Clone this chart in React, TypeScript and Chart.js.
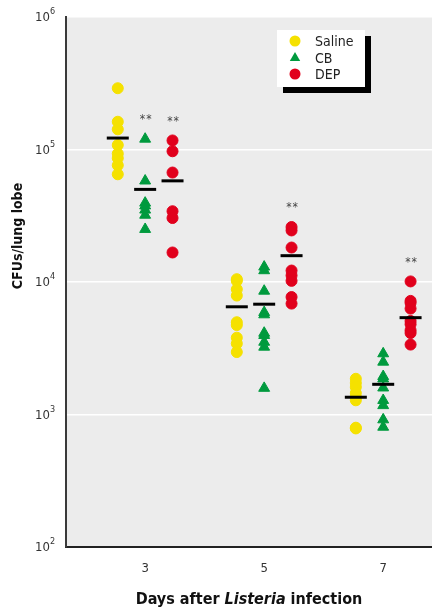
import { useEffect, useRef } from "react";
import { Chart, registerables } from "chart.js";

Chart.register(...registerables);

// Sampling days and their axis labels
const days = [3, 5, 7];
const dayLabels = ["3", "5", "7"];

// Individual lung-lobe counts (CFUs) per group and day
const salineDay3 = [2.9e5, 1.62e5, 1.42e5, 1.08e5, 9.3e4, 8.6e4, 7.6e4, 6.5e4];
const salineDay5 = [1.05e4, 1.02e4, 8.8e3, 7.9e3, 4.97e3, 4.73e3, 3.8e3, 3.43e3, 2.96e3];
const salineDay7 = [1.86e3, 1.73e3, 1.61e3, 1.45e3, 1.35e3, 1.28e3, 795, 785];

const cbDay3 = [1.2e5, 5.8e4, 3.95e4, 3.76e4, 3.5e4, 3.2e4, 2.5e4];
const cbDay5 = [1.3e4, 1.22e4, 8.55e3, 5.9e3, 5.67e3, 4.12e3, 3.96e3, 3.52e3, 3.23e3, 1.58e3];
const cbDay7 = [2.88e3, 2.49e3, 1.94e3, 1.86e3, 1.59e3, 1.28e3, 1.17e3, 914, 804];

const depDay3 = [1.17e5, 9.7e4, 6.7e4, 3.42e4, 3.04e4, 1.67e4];
const depDay5 = [2.6e4, 2.45e4, 1.82e4, 1.22e4, 1.12e4, 1.02e4, 7.7e3, 6.87e3];
const depDay7 = [1.01e4, 7.2e3, 6.95e3, 6.3e3, 5.08e3, 4.8e3, 4.32e3, 4.12e3, 3.37e3];

// Group means (horizontal bars)
const salineMeans = [1.22e5, 6.5e3, 1.35e3];
const cbMeans = [5.0e4, 6.8e3, 1.69e3];
const depMeans = [5.8e4, 1.58e4, 5.38e3];

// Significance flags (** above the group)
const salineSignificant = [false, false, false];
const cbSignificant = [true, false, false];
const depSignificant = [true, true, true];

// Decades shown on the y axis
const yTickPowers = [2, 3, 4, 5, 6];

const FONT = "'Liberation Sans Narrow', 'DejaVu Sans Condensed', 'Liberation Sans', Arial, sans-serif";
const GROUP_SHIFT = 0.46;

type Group = {
  name: string;
  color: string;
  style: "circle" | "triangle";
  radius: number;
  shift: number;
  values: number[][];
  means: number[];
  significant: boolean[];
};

const groups: Group[] = [
  { name: "Saline", color: "#f5e100", style: "circle", radius: 5.5, shift: -GROUP_SHIFT, values: [salineDay3, salineDay5, salineDay7], means: salineMeans, significant: salineSignificant },
  { name: "CB", color: "#009a3e", style: "triangle", radius: 6.3, shift: 0, values: [cbDay3, cbDay5, cbDay7], means: cbMeans, significant: cbSignificant },
  { name: "DEP", color: "#e1001c", style: "circle", radius: 5.5, shift: GROUP_SHIFT, values: [depDay3, depDay5, depDay7], means: depMeans, significant: depSignificant },
];

const decorPlugin = {
  id: "decor",
  beforeDraw(chart: any) {
    const { ctx, chartArea: a } = chart;
    ctx.save();
    ctx.fillStyle = "#ececec";
    ctx.fillRect(a.left, a.top, a.right - a.left, a.bottom - a.top);
    ctx.restore();
  },
  afterDraw(chart: any) {
    const { ctx, chartArea: a } = chart;
    const xs = chart.scales.x;
    const ys = chart.scales.y;
    ctx.save();

    // y tick labels as 10 with a raised exponent
    ctx.fillStyle = "#333";
    for (const p of yTickPowers) {
      const y = ys.getPixelForValue(Math.pow(10, p));
      ctx.font = `13px ${FONT}`;
      ctx.textAlign = "right";
      ctx.textBaseline = "middle";
      ctx.fillText("10", a.left - 16, y + 1);
      ctx.font = `9px ${FONT}`;
      ctx.textAlign = "left";
      ctx.fillText(String(p), a.left - 16, y - 5);
    }

    // significance marks
    ctx.font = `12px ${FONT}`;
    ctx.fillStyle = "#444";
    ctx.textAlign = "center";
    ctx.textBaseline = "middle";
    (ctx as any).letterSpacing = "1px";
    groups.forEach((g) => {
      days.forEach((d, i) => {
        if (!g.significant[i]) return;
        const top = Math.max(...g.values[i]);
        const x = xs.getPixelForValue(d + g.shift);
        const y = ys.getPixelForValue(top) - 19;
        ctx.fillText("**", x + 1, y);
      });
    });
    (ctx as any).letterSpacing = "0px";

    // y axis title
    ctx.save();
    ctx.translate(18, 236);
    ctx.rotate(-Math.PI / 2);
    ctx.font = `bold 14px ${FONT}`;
    ctx.fillStyle = "#111";
    ctx.textAlign = "center";
    ctx.textBaseline = "middle";
    ctx.fillText("CFUs/lung lobe", 0, 0);
    ctx.restore();

    // x axis title with italic genus name
    const parts = [
      { t: "Days after ", f: `bold 16px ${FONT}` },
      { t: "Listeria", f: `italic bold 16px ${FONT}` },
      { t: " infection", f: `bold 16px ${FONT}` },
    ];
    let total = 0;
    for (const p of parts) {
      ctx.font = p.f;
      total += ctx.measureText(p.t).width;
    }
    let cx = (a.left + a.right) / 2 - total / 2;
    ctx.fillStyle = "#111";
    ctx.textAlign = "left";
    ctx.textBaseline = "middle";
    for (const p of parts) {
      ctx.font = p.f;
      ctx.fillText(p.t, cx, 600);
      cx += ctx.measureText(p.t).width;
    }

    // legend box with drop shadow
    const lx = 277, ly = 30, lw = 88, lh = 57;
    ctx.fillStyle = "#000";
    ctx.fillRect(lx + 6, ly + 6, lw, lh);
    ctx.fillStyle = "#fff";
    ctx.fillRect(lx, ly, lw, lh);
    const rows = [41, 58, 74];
    groups.forEach((g, i) => {
      const my = ly + (rows[i] - 30);
      ctx.fillStyle = g.color;
      ctx.beginPath();
      if (g.style === "circle") {
        ctx.arc(lx + 18, my, 5.5, 0, Math.PI * 2);
      } else {
        ctx.moveTo(lx + 18, my - 6);
        ctx.lineTo(lx + 23.2, my + 3);
        ctx.lineTo(lx + 12.8, my + 3);
        ctx.closePath();
      }
      ctx.fill();
      ctx.fillStyle = "#222";
      ctx.font = `14px ${FONT}`;
      ctx.textAlign = "left";
      ctx.textBaseline = "middle";
      ctx.fillText(g.name, lx + 38, my + 1);
    });

    ctx.restore();
  },
};

export default function App() {
  const canvasRef = useRef<HTMLCanvasElement | null>(null);

  useEffect(() => {
    document.body.style.margin = "0";
    const canvas = canvasRef.current;
    if (!canvas) return;

    const meanSets = groups.map((g) => ({
      label: `${g.name} mean`,
      data: days.map((d, i) => ({ x: d + g.shift, y: g.means[i] })),
      pointStyle: "line" as const,
      pointRadius: 11,
      pointBorderWidth: 3,
      pointBorderColor: "#000",
      pointBackgroundColor: "#000",
      borderColor: "#000",
    }));

    const pointSets = groups.map((g) => ({
      label: g.name,
      data: days.flatMap((d, i) => g.values[i].map((v) => ({ x: d + g.shift, y: v }))),
      pointStyle: g.style,
      pointRadius: g.radius,
      pointBorderWidth: 1,
      pointBackgroundColor: g.color,
      pointBorderColor: g.color,
      backgroundColor: g.color,
      borderColor: g.color,
    }));

    const chart = new Chart(canvas, {
      type: "scatter",
      data: { datasets: [...meanSets, ...pointSets] as any },
      options: {
        animation: false,
        responsive: false,
        events: [],
        layout: { padding: { top: 17, right: 0, bottom: 0, left: 0 }, autoPadding: false },
        plugins: { legend: { display: false }, tooltip: { enabled: false } },
        scales: {
          x: {
            type: "linear",
            min: 1.67,
            max: 7.82,
            afterBuildTicks: (scale: any) => {
              scale.ticks = days.map((d) => ({ value: d }));
            },
            afterFit: (scale: any) => {
              scale.height = 63;
              scale.paddingLeft = 0;
              scale.paddingRight = 0;
            },
            ticks: {
              callback: (v: any) => {
                const i = days.indexOf(Number(v));
                return i >= 0 ? dayLabels[i] : "";
              },
              font: { family: FONT, size: 13 },
              color: "#333",
              padding: 14,
              maxRotation: 0,
            },
            grid: { display: false, drawTicks: false },
            border: { display: true, color: "#222", width: 2 },
          },
          y: {
            type: "logarithmic",
            min: 100,
            max: 1e6,
            afterBuildTicks: (scale: any) => {
              scale.ticks = yTickPowers.map((p) => ({ value: Math.pow(10, p), major: true }));
            },
            afterFit: (scale: any) => {
              scale.width = 66;
              scale.paddingTop = 0;
              scale.paddingBottom = 0;
            },
            ticks: { display: false },
            grid: { color: "#ffffff", lineWidth: 1.5, drawTicks: false },
            border: { display: true, color: "#3a3a3a", width: 2 },
          },
        },
      },
      plugins: [decorPlugin],
    });

    return () => chart.destroy();
  }, []);

  return (
    <canvas ref={canvasRef} width={432} height={610} style={{ display: "block" }} />
  );
}
